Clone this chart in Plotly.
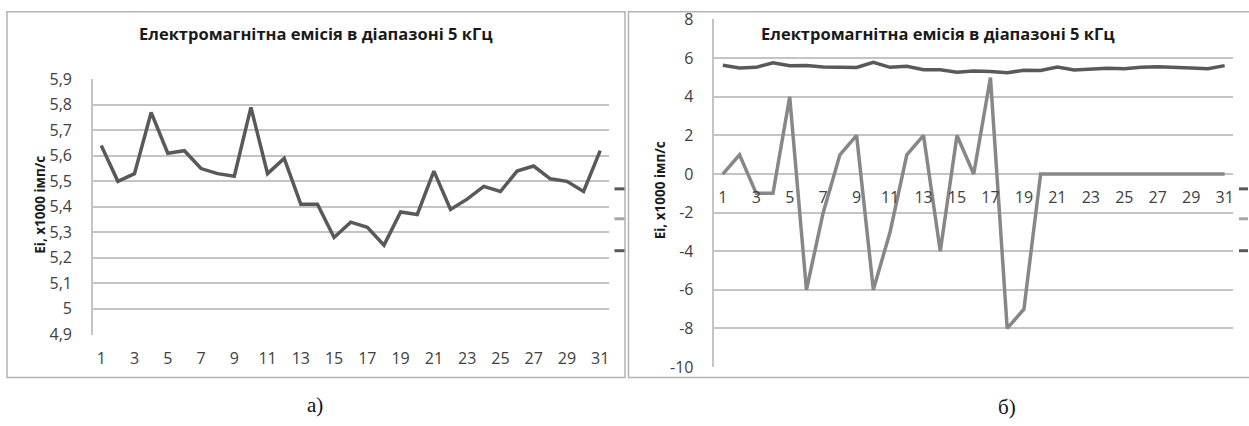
import plotly.graph_objects as go

W, H = 1249, 426

# ---- data ----
days = [1, 2, 3, 4, 5, 6, 7, 8, 9, 10, 11, 12, 13, 14, 15, 16,
        17, 18, 19, 20, 21, 22, 23, 24, 25, 26, 27, 28, 29, 30, 31]
emission = [5.64, 5.50, 5.53, 5.77, 5.61, 5.62, 5.55, 5.53, 5.52, 5.79,
            5.53, 5.59, 5.41, 5.41, 5.28, 5.34, 5.32, 5.25, 5.38, 5.37,
            5.54, 5.39, 5.43, 5.48, 5.46, 5.54, 5.56, 5.51, 5.50, 5.46, 5.62]
deviation = [0, 1, -1, -1, 4, -6, -2, 1, 2, -6, -3, 1, 2, -4, 2, 0,
             5, -8, -7, 0, 0, 0, 0, 0, 0, 0, 0, 0, 0, 0, 0]
x_tick_labels = [1, 3, 5, 7, 9, 11, 13, 15, 17, 19, 21, 23, 25, 27, 29, 31]
left_y_ticks = [4.9, 5.0, 5.1, 5.2, 5.3, 5.4, 5.5, 5.6, 5.7, 5.8, 5.9]
right_y_ticks = [-10, -8, -6, -4, -2, 0, 2, 4, 6, 8]
chart_title = "Електромагнітна емісія в діапазоні 5 кГц"
y_title = "Ei, x1000 імп/с"
panel_labels = ["а)", "б)"]


def px(x):
    return x / W


def py(y):
    # empirical correction for vertical placement in the rendered page
    yd = (y - 10.7) / 0.953
    return 1 - yd / H


FONT = "Open Sans"
DARK = "#595959"
LIGHT = "#878787"
GRID = "#c4c4c4"
TICKC = "#404040"
FRAME = "#b3b3b3"

fig = go.Figure()
fig.add_trace(go.Scatter(x=days, y=emission, mode="lines",
                         line=dict(color=DARK, width=3.5), xaxis="x", yaxis="y"))
fig.add_trace(go.Scatter(x=days, y=emission, mode="lines",
                         line=dict(color=DARK, width=3.5), xaxis="x2", yaxis="y2"))
fig.add_trace(go.Scatter(x=days, y=deviation, mode="lines",
                         line=dict(color=LIGHT, width=3.5), xaxis="x2", yaxis="y2"))

tickfont = dict(family=FONT, size=16, color=TICKC)

xcommon = dict(range=[0.5, 31.5], tickmode="array", tickvals=x_tick_labels,
               ticktext=[str(v) for v in x_tick_labels], showgrid=False,
               zeroline=False, showline=False, ticks="outside", ticklen=9,
               tickcolor="rgba(0,0,0,0)", tickfont=tickfont)

fig.update_layout(
    width=W, height=H,
    margin=dict(l=0, r=0, t=0, b=0),
    paper_bgcolor="white", plot_bgcolor="rgba(0,0,0,0)",
    showlegend=False,
    separators=", ",
    xaxis=dict(domain=[px(93), px(609)], anchor="y", **xcommon),
    yaxis=dict(domain=[py(335), py(79)], range=[4.8995, 5.9005],
               tickmode="array", tickvals=left_y_ticks,
               ticktext=[("%g" % v).replace(".", ",") for v in left_y_ticks],
               showgrid=True, gridcolor=GRID, gridwidth=1.5,
               showline=True, linecolor=GRID, linewidth=1.5, zeroline=False,
               ticks="", ticklabelstandoff=16, tickfont=tickfont),
    xaxis2=dict(domain=[px(715), px(1234)], anchor="free", position=py(174),
                **xcommon),
    yaxis2=dict(domain=[py(368), py(19)], range=[-10.02, 8.02], anchor="x2",
                tickmode="array", tickvals=right_y_ticks,
                ticktext=[str(v) for v in right_y_ticks],
                showgrid=True, gridcolor=GRID, gridwidth=1.5,
                showline=True, linecolor=GRID, linewidth=1.5, zeroline=False,
                ticks="", ticklabelstandoff=16, tickfont=tickfont),
)

ann = []
ann.append(dict(x=px(316), y=py(33), text="<b>%s</b>" % chart_title,
                font=dict(family=FONT, size=16.5, color="#1a1a1a")))
ann.append(dict(x=px(939), y=py(33), text="<b>%s</b>" % chart_title,
                font=dict(family=FONT, size=16.5, color="#1a1a1a")))
ann.append(dict(x=px(40), y=py(205), text="<b>%s</b>" % y_title, textangle=-90,
                font=dict(family=FONT, size=13.5, color="#1a1a1a")))
ann.append(dict(x=px(660), y=py(190), text="<b>%s</b>" % y_title, textangle=-90,
                font=dict(family=FONT, size=13.5, color="#1a1a1a")))
ann.append(dict(x=px(315), y=py(406), text=panel_labels[0],
                font=dict(family="Liberation Serif", size=21, color="#111")))
ann.append(dict(x=px(1008), y=py(408), text=panel_labels[1],
                font=dict(family="Liberation Serif", size=21, color="#111")))
for a in ann:
    a.update(xref="paper", yref="paper", showarrow=False,
             xanchor="center", yanchor="middle")
fig.update_layout(annotations=ann)

shapes = []
# chart frames
shapes.append(dict(type="rect", x0=px(7), x1=px(625.5), y0=py(378), y1=py(11.5),
                   line=dict(color=FRAME, width=1.5)))
shapes.append(dict(type="rect", x0=px(629), x1=px(1260), y0=py(378), y1=py(11.5),
                   line=dict(color=FRAME, width=1.5)))
# clipped legend keys at the right edge of each panel
for x0, x1 in [(615, 625), (1240, 1249)]:
    for yy, col in [(189, DARK), (219, "#a6a6a6"), (251, DARK)]:
        shapes.append(dict(type="line", x0=px(x0), x1=px(x1), y0=py(yy), y1=py(yy),
                           line=dict(color=col, width=3)))
for s in shapes:
    s.update(xref="paper", yref="paper")
fig.update_layout(shapes=shapes)

fig.write_html("out.html", config={"displayModeBar": False},
               post_script="document.body.style.margin='0';"
                           "document.body.style.overflow='hidden';")
